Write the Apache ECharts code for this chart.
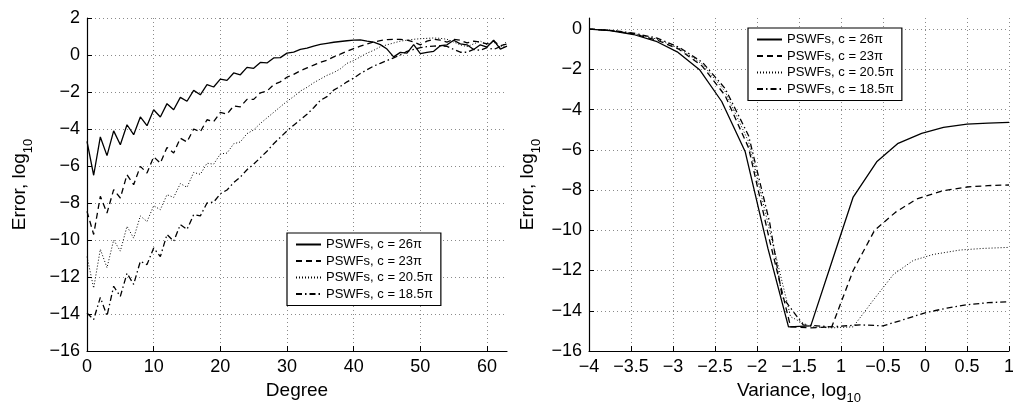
<!DOCTYPE html>
<html>
<head>
<meta charset="utf-8">
<script src="https://cdn.jsdelivr.net/npm/echarts@6/dist/echarts.min.js"></script>
<style>
html,body{margin:0;padding:0;background:#fff;}
#c{width:1013px;height:404px;}
</style>
</head>
<body>
<div id="c"></div>
<script>
// ---------- Left panel data (Degree vs Error, log10) ----------
const degree = [0,1,2,3,4,5,6,7,8,9,10,11,12,13,14,15,16,17,18,19,20,21,22,23,24,25,26,27,28,29,30,31,32,33,34,35,36,37,38,39,40,41,42,43,44,45,46,47,48,49,50,51,52,53,54,55,56,57,58,59,60,61,62,63];
const errC26 = [-4.67,-6.5,-4.43,-5.44,-4.1,-4.85,-3.77,-4.31,-3.35,-3.82,-2.96,-3.35,-2.63,-2.96,-2.29,-2.5,-1.91,-2.15,-1.6,-1.73,-1.3,-1.37,-0.97,-1.07,-0.67,-0.72,-0.4,-0.43,-0.16,-0.14,0.1,0.15,0.3,0.37,0.48,0.57,0.63,0.69,0.73,0.77,0.8,0.82,0.75,0.7,0.56,0.32,-0.1,0.14,0.1,0.56,0.07,0.14,0.2,0.5,0.55,0.8,0.6,0.55,0.3,0.55,0.43,0.8,0.32,0.48];
const errC23 = [-8.45,-9.7,-7.64,-8.54,-7.28,-7.73,-6.47,-7.01,-6.02,-6.38,-5.5,-5.85,-5.0,-5.3,-4.5,-4.7,-4.0,-4.15,-3.5,-3.6,-3.1,-3.2,-2.75,-2.8,-2.4,-2.4,-2.05,-1.95,-1.6,-1.45,-1.2,-1.05,-0.85,-0.7,-0.55,-0.4,-0.28,-0.1,0.05,0.2,0.35,0.48,0.6,0.7,0.78,0.83,0.85,0.85,0.8,0.7,0.55,0.75,0.85,0.8,0.7,0.85,0.8,0.65,0.75,0.7,0.6,0.75,0.5,0.6];
const errC205 = [-10.9,-12.6,-10.5,-11.5,-10.0,-10.6,-9.26,-9.9,-8.7,-9.0,-8.15,-8.36,-7.55,-7.7,-6.95,-7.15,-6.35,-6.45,-5.85,-5.9,-5.35,-5.3,-4.8,-4.7,-4.25,-4.05,-3.7,-3.4,-3.1,-2.8,-2.5,-2.25,-1.95,-1.75,-1.5,-1.3,-1.1,-0.95,-0.75,-0.45,-0.3,-0.1,0.1,0.25,0.45,0.55,0.65,0.75,0.8,0.85,0.88,0.9,0.92,0.9,0.85,0.7,0.55,0.45,0.6,0.75,0.55,0.7,0.4,0.75];
const errC185 = [-13.95,-14.3,-13.1,-14.1,-12.5,-13.05,-11.8,-12.4,-11.15,-11.33,-10.43,-10.9,-9.7,-10.07,-9.17,-9.43,-8.63,-8.7,-8.0,-7.95,-7.5,-7.3,-6.9,-6.6,-6.2,-5.9,-5.55,-5.2,-4.8,-4.45,-4.1,-3.8,-3.5,-3.2,-2.85,-2.45,-2.25,-1.9,-1.7,-1.45,-1.25,-1.0,-0.8,-0.6,-0.45,-0.3,-0.15,0.0,0.2,0.3,0.4,0.45,0.48,0.5,0.47,0.3,0.15,0.15,0.3,0.25,0.4,0.3,0.45,0.4];
const leftXTicks = [0,10,20,30,40,50,60];
const leftYTicks = [-16,-14,-12,-10,-8,-6,-4,-2,0,2];

// ---------- Right panel data (Variance, log10 vs Error, log10) ----------
const varC26 = [-4,-3.75,-3.47,-3.19,-2.95,-2.68,-2.42,-2.14,-1.87,-1.625,-1.36,-1.1,-0.855,-0.575,-0.32,-0.04,0.22,0.5,0.75,1];
const rErrC26 = [0,-0.08,-0.27,-0.63,-1.13,-2.04,-3.6,-6.1,-10.9,-14.8,-14.75,-11.45,-8.35,-6.6,-5.68,-5.18,-4.89,-4.72,-4.67,-4.64];
const varC23 = [-4,-3.75,-3.47,-3.19,-2.93,-2.65,-2.38,-2.1,-1.85,-1.6,-1.36,-1.11,-0.855,-0.6,-0.35,-0.1,0.2,0.5,0.75,1];
const rErrC23 = [0,-0.07,-0.24,-0.55,-1.0,-1.85,-3.3,-5.9,-10.5,-14.8,-14.85,-14.8,-12.0,-10.0,-9.1,-8.45,-8.05,-7.85,-7.78,-7.75];
const varC205 = [-4,-3.75,-3.47,-3.19,-2.93,-2.65,-2.38,-2.1,-1.85,-1.6,-1.36,-1.11,-0.855,-0.615,-0.377,-0.14,0.1,0.42,0.7,1];
const rErrC205 = [0,-0.07,-0.22,-0.5,-0.95,-1.75,-3.1,-5.6,-10.0,-14.3,-14.8,-14.85,-14.8,-13.47,-12.2,-11.5,-11.2,-10.98,-10.9,-10.85];
const varC185 = [-4,-3.75,-3.47,-3.19,-2.93,-2.65,-2.38,-2.1,-1.85,-1.7,-1.45,-1.11,-0.77,-0.5,-0.3,0,0.26,0.5,0.75,1];
const rErrC185 = [0,-0.06,-0.2,-0.45,-0.9,-1.65,-2.95,-5.3,-9.6,-13.3,-14.7,-14.8,-14.7,-14.75,-14.5,-14.1,-13.87,-13.7,-13.6,-13.55];
const rightXTicks = [-4,-3.5,-3,-2.5,-2,-1.5,-1,-0.5,0,0.5,1];
const rightXTickLabels = ['−4','−3.5','−3','−2.5','−2','−1.5','1','−0.5','0','0.5','1'];
const rightYTicks = [-16,-14,-12,-10,-8,-6,-4,-2,0];

const seriesNames = ['PSWFs, c = 26π','PSWFs, c = 23π','PSWFs, c = 20.5π','PSWFs, c = 18.5π'];

// ---------- build ----------
const FONT = "'Liberation Sans', Arial, Helvetica, sans-serif";
const minus = v => String(v).replace('-', '−');
const lineStyles = [
  {type:'solid', width:1.3},
  {type:[6,4], width:1.3},
  {type:[1,2], width:1},
  {type:[6,3,1.5,3], width:1.3}
];
const pair = (xs, ys) => xs.map((x,i)=>[x, ys[i]]);

const axisCommon = {
  axisLine:{show:true, onZero:false, lineStyle:{color:'#000', width:1.2}},
  axisTick:{show:true, inside:true, length:5, lineStyle:{color:'#000', width:1}},
  splitLine:{show:true, lineStyle:{color:'#8a8a8a', type:[1,3], width:1}},
  axisLabel:{color:'#000', fontSize:18, fontFamily:FONT}
};
function mkAxis(extra){
  const a = JSON.parse(JSON.stringify(axisCommon));
  return Object.assign(a, extra);
}
const nameRich = {
  a:{fontSize:19, fontFamily:FONT, color:'#000', lineHeight:30, verticalAlign:'middle'},
  s:{fontSize:13, fontFamily:FONT, color:'#000', lineHeight:12, verticalAlign:'bottom'}
};

const leftX = mkAxis({type:'value', gridIndex:0, min:0, max:63,
  name:'Degree', nameLocation:'middle', nameGap:27,
  nameTextStyle:{fontSize:19, fontFamily:FONT, color:'#000'}});
leftX.axisTick.customValues = leftXTicks;
leftX.axisLabel.customValues = leftXTicks;
leftX.axisLabel.margin = 7;
leftX.axisLabel.formatter = minus;

const leftY = mkAxis({type:'value', gridIndex:0, min:-16, max:2,
  name:'{a|Error, log}{s|10}', nameLocation:'middle', nameGap:52, nameRotate:90,
  nameTextStyle:{rich:nameRich}});
leftY.axisTick.customValues = leftYTicks;
leftY.axisLabel.customValues = leftYTicks;
leftY.axisLabel.margin = 7;
leftY.axisLabel.formatter = minus;

const rightX = mkAxis({type:'value', gridIndex:1, min:-4, max:1,
  name:'{a|Variance, log}{s|10}', nameLocation:'middle', nameGap:22,
  nameTextStyle:{rich:nameRich}});
rightX.axisTick.customValues = rightXTicks;
rightX.axisLabel.customValues = rightXTicks;
rightX.axisLabel.margin = 7;
rightX.axisLabel.formatter = v => {
  const i = rightXTicks.findIndex(t => Math.abs(t - v) < 1e-9);
  return i >= 0 ? rightXTickLabels[i] : '';
};

const rightY = mkAxis({type:'value', gridIndex:1, min:-16, max:0.55,
  name:'{a|Error, log}{s|10}', nameLocation:'middle', nameGap:46, nameRotate:90,
  nameTextStyle:{rich:nameRich}});
rightY.axisTick.customValues = rightYTicks;
rightY.axisLabel.customValues = rightYTicks;
rightY.axisLabel.margin = 7;
rightY.axisLabel.formatter = minus;

const leftData = [errC26, errC23, errC205, errC185];
const rightData = [[varC26,rErrC26],[varC23,rErrC23],[varC205,rErrC205],[varC185,rErrC185]];

const series = [];
leftData.forEach((ys, k) => {
  series.push({type:'line', name:seriesNames[k], xAxisIndex:0, yAxisIndex:0,
    data:pair(degree, ys), showSymbol:false, symbol:'none', animation:false, silent:true,
    lineStyle:Object.assign({color:'#000'}, lineStyles[k]), itemStyle:{color:'#000'}});
});
rightData.forEach((d, k) => {
  series.push({type:'line', name:seriesNames[k] + ' ', xAxisIndex:1, yAxisIndex:1,
    data:pair(d[0], d[1]), showSymbol:false, symbol:'none', animation:false, silent:true,
    lineStyle:Object.assign({color:'#000'}, lineStyles[k]), itemStyle:{color:'#000'}});
});

const legendCommon = {
  orient:'vertical', backgroundColor:'#fff', borderColor:'#000', borderWidth:1.2,
  padding:[5,8,5,8], itemGap:3.5, itemWidth:25, itemHeight:13,
  textStyle:{fontSize:13, fontFamily:FONT, color:'#000'},
  itemStyle:{color:'rgba(0,0,0,0)', borderWidth:0, opacity:0},
  selectedMode:false
};
const legendLeft = Object.assign({}, legendCommon, {left:287, top:233, data:seriesNames});
const legendRight = Object.assign({}, legendCommon, {left:748, top:28,
  data:seriesNames.map(n => n + ' '), formatter: n => n.trim()});

const chart = echarts.init(document.getElementById('c'), null, {renderer:'canvas'});
chart.setOption({
  animation:false,
  backgroundColor:'#fff',
  grid:[
    {left:87, top:18, width:420, height:333, containLabel:false, outerBoundsMode:'none'},
    {left:589, top:18, width:420, height:333, containLabel:false, outerBoundsMode:'none'}
  ],
  xAxis:[leftX, rightX],
  yAxis:[leftY, rightY],
  legend:[legendLeft, legendRight],
  series:series
});
</script>
</body>
</html>
